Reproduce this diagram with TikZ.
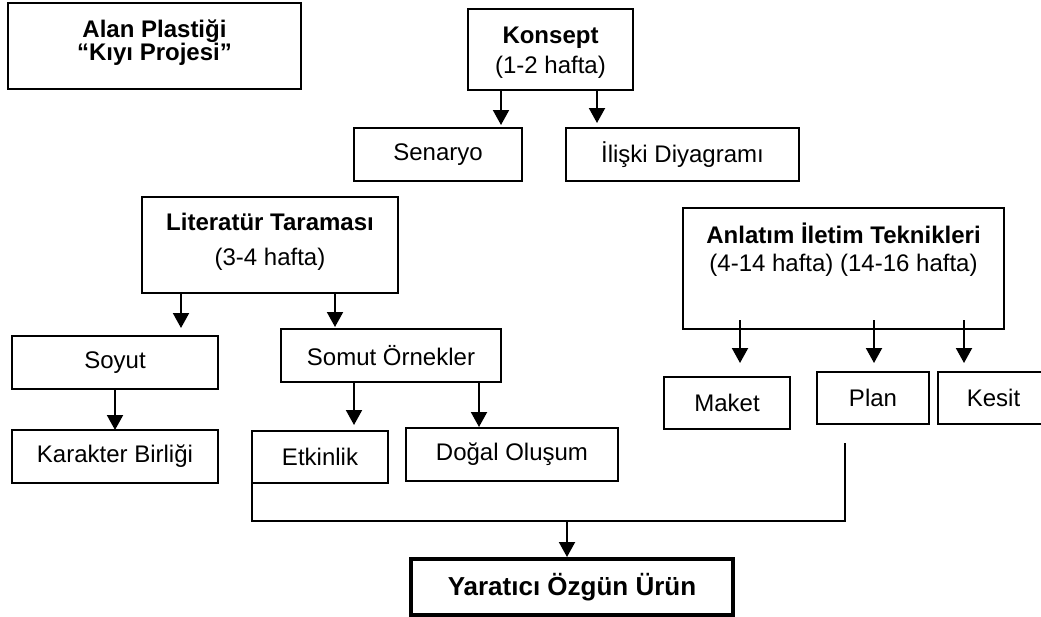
\documentclass[tikz,border=0pt]{standalone}
\usepackage{fontspec}
\setmainfont{Liberation Sans}
\usetikzlibrary{arrows.meta}
\begin{document}
\begin{tikzpicture}[x=1pt,y=-1pt,
  every node/.style={font=\fontsize{24}{28}\selectfont, inner sep=0pt, outer sep=0pt},
  box/.style={draw, line width=1.8pt, rectangle},
  ttl/.style={font=\fontsize{24}{28}\selectfont\bfseries, anchor=base},
  sub/.style={anchor=base},
  arr/.style={line width=2pt, -{Triangle[width=16pt,length=15pt]}},
  joinline/.style={line width=1.5pt}]
\useasboundingbox (0,0) rectangle (1041,616);
\fill[white] (0,0) rectangle (1041,616);

% boxes
\node[box, minimum width=293pt, minimum height=86pt] (alan) at (154.5,46) {};
\node[ttl] (alan1) at (154.5,37) {Alan Plastiği};
\node[ttl] (alan2) at (154.5,60) {“Kıyı Projesi”};

\node[box, minimum width=165pt, minimum height=81pt] (kon) at (550.5,49.5) {};
\node[ttl] (kon1) at (550.5,43) {Konsept};
\node[sub] (kon2) at (550.5,73) {(1-2 hafta)};

\node[box, minimum width=168pt, minimum height=53pt] (sen) at (438,154.5) {Senaryo};
\node[box, minimum width=233pt, minimum height=53pt] (ili) at (682.5,154.5) {İlişki Diyagramı};

\node[box, minimum width=256pt, minimum height=96pt] (lit) at (270,245) {};
\node[ttl] (lit1) at (270,230) {Literatür Taraması};
\node[sub] (lit2) at (270,265) {(3-4 hafta)};

\node[box, minimum width=321pt, minimum height=121pt] (anl) at (843.5,268.5) {};
\node[ttl] (anl1) at (843.5,243) {Anlatım İletim Teknikleri};
\node[sub] (anl2) at (843.5,271) {(4-14 hafta) (14-16 hafta)};

\node[box, minimum width=206pt, minimum height=53pt] (soy) at (115,362.5) {Soyut};
\node[box, minimum width=220pt, minimum height=53pt] (som) at (391,355.5) {Somut Örnekler};
\node[box, minimum width=206pt, minimum height=53pt] (kar) at (115,456.5) {Karakter Birliği};
\node[box, minimum width=136pt, minimum height=52pt] (etk) at (320,457) {Etkinlik};
\node[box, minimum width=212pt, minimum height=53pt] (dog) at (512,454.5) {Doğal Oluşum};

\node[box, minimum width=126pt, minimum height=52pt] (mak) at (727,403) {Maket};
\node[box, minimum width=112pt, minimum height=52pt] (pla) at (873,398) {Plan};
\node[box, minimum width=111pt, minimum height=52pt] (kes) at (993.5,398) {Kesit};

\node[box, line width=4pt, minimum width=322pt, minimum height=56pt,
      font=\fontsize{26}{30}\selectfont\bfseries] (yar) at (572,587) {Yaratıcı Özgün Ürün};

% connectors
\draw[arr] ([xshift=-49.5pt]kon.south) -- ([xshift=63pt,yshift=3pt]sen.north);
\draw[arr] ([xshift=46.5pt]kon.south) -- ([xshift=-85.5pt,yshift=5pt]ili.north);

\draw[arr] ([xshift=-89pt]lit.south) -- ([xshift=66pt,yshift=8pt]soy.north);
\draw[arr] ([xshift=65pt]lit.south) -- ([xshift=-56pt,yshift=2pt]som.north);
\draw[arr] (soy.south) -- (kar.north);
\draw[arr] ([xshift=-37pt]som.south) -- ([xshift=34pt,yshift=6pt]etk.north);
\draw[arr] ([xshift=88pt]som.south) -- ([xshift=-33pt,yshift=1pt]dog.north);

\draw[arr] ([xshift=-103.5pt,yshift=9pt]anl.south) -- ([xshift=13pt,yshift=14pt]mak.north);
\draw[arr] ([xshift=30.5pt,yshift=9pt]anl.south) -- ([xshift=1pt,yshift=9pt]pla.north);
\draw[arr] ([xshift=120.5pt,yshift=9pt]anl.south) -- ([xshift=-29.5pt,yshift=9pt]kes.north);

\coordinate (jn) at (567,521);
\coordinate (pend) at (845,443);
\draw[joinline] (etk.south west) -- (etk.south west |- jn) -- (jn -| pend) -- (pend);
\draw[arr] (jn) -- ([yshift=2pt]yar.north -| jn);
\end{tikzpicture}
\end{document}
